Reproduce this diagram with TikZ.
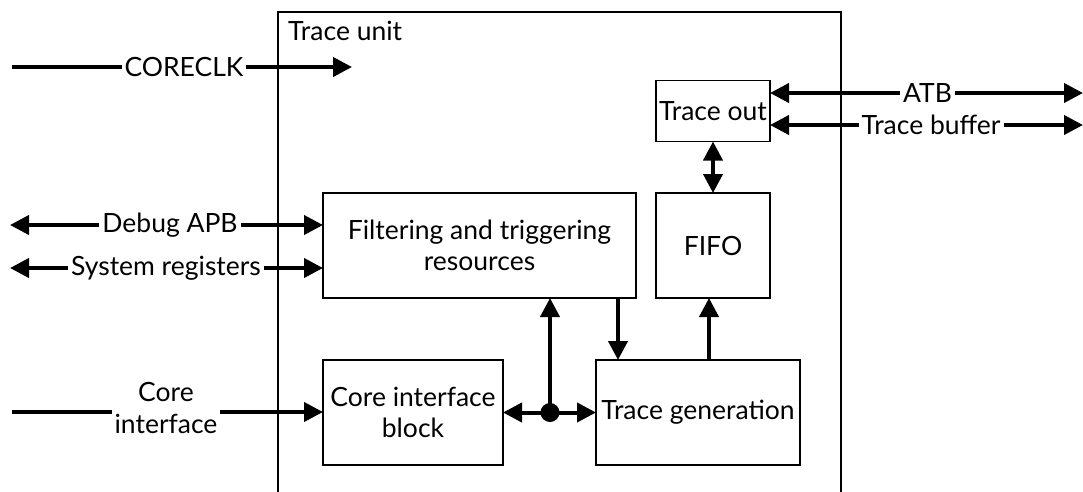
\documentclass[tikz,border=0pt]{standalone}
\usepackage{fontspec}
\setmainfont{Lato}
\usetikzlibrary{arrows.meta}
\begin{document}
\begin{tikzpicture}[x=1pt,y=-1pt,
  font=\fontsize{26.5}{31.5}\selectfont,
  box/.style={draw, line width=1.2pt, inner sep=0pt, outer sep=0pt, align=center},
  conn/.style={line width=4pt},
  tip/.style={-{Triangle[length=19pt,width=19pt]}},
  dtip/.style={{Triangle[length=19pt,width=19pt]}-{Triangle[length=19pt,width=19pt]}},
  lab/.style={fill=white, inner xsep=3pt, inner ysep=1pt, align=center}]
\clip (0,0) rectangle (1083,491);
\fill[white] (0,0) rectangle (1083,491);
% boxes
\node[box, minimum width=563pt, minimum height=520pt] (unit) at (559.5,272) {};
\node[anchor=base west, inner sep=0pt] (unitlab) at (288,40) {Trace unit};
\node[box, minimum width=114pt, minimum height=61pt] (traceout) at (713,111) {Trace out};
\node[box, minimum width=313pt, minimum height=105pt] (filter) at (479.5,245.5) {Filtering and triggering\\resources};
\node[box, minimum width=114pt, minimum height=105pt] (fifo) at (713,245.5) {FIFO};
\node[box, minimum width=180pt, minimum height=105pt] (cib) at (413,412.5) {Core interface\\block};
\node[box, minimum width=204pt, minimum height=105pt] (tgen) at (698,412.5) {Trace generation};
% free ends
\coordinate (clkL) at (12,67);
\coordinate (clkR) at (352,67);
\coordinate (atbR) at (1083,93);
\coordinate (tbR) at (1083,125);
\coordinate (apbL) at (10,225);
\coordinate (sysL) at (10,268);
\coordinate (ciL) at (12,412);
\coordinate (xdown) at (618,0);
\coordinate (xup) at (709,0);
% connectors
\draw[conn, tip] (clkL) -- (clkR);
\node[lab] (clklab) at (184,67) {CORECLK};
\draw[conn, dtip] (traceout.east |- atbR) -- (atbR);
\node[lab] (atblab) at (927.5,93) {ATB};
\draw[conn, dtip] (traceout.east |- tbR) -- (tbR);
\node[lab] (tblab) at (931,125) {Trace buffer};
\draw[conn, dtip] (fifo.north) -- (traceout.south);
\draw[conn, dtip] (apbL) -- (filter.west |- apbL);
\node[lab] (apblab) at (170,225) {Debug APB};
\draw[conn, dtip] (sysL) -- (filter.west |- sysL);
\node[lab] (syslab) at (166,268) {System registers};
\draw[conn, tip] (ciL) -- (cib.west |- ciL);
\node[lab] (cilab) at (166,408) {Core\\interface};
\draw[conn, dtip] (cib.east) -- (tgen.west);
\node[circle, fill, inner sep=0pt, minimum size=19pt] (dot) at (550,412.5) {};
\draw[conn, tip] (dot.center) -- (dot |- filter.south);
\draw[conn, tip] (filter.south -| xdown) -- (tgen.north -| xdown);
\draw[conn, tip] (tgen.north -| xup) -- (fifo.south -| xup);
\end{tikzpicture}
\end{document}
